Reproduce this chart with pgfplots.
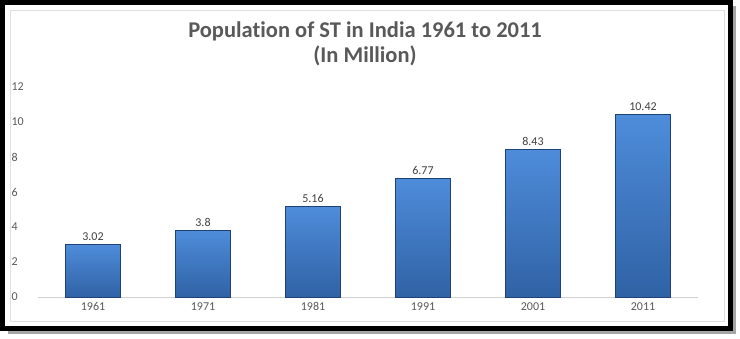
\documentclass[border=0pt]{standalone}
\usepackage{pgfplots}
\pgfplotsset{compat=1.18}
\usepackage{fontspec}
\setmainfont{Carlito}[Ligatures={NoCommon}]
\definecolor{txt}{HTML}{595959}
\definecolor{lab}{HTML}{404040}
\definecolor{bartop}{RGB}{78,140,218}
\definecolor{barbot}{RGB}{48,98,165}
\definecolor{baredge}{RGB}{30,66,120}
\tikzset{mybar/.style={draw=baredge, line width=0.8pt, top color=bartop, bottom color=barbot}}
\begin{document}
\begin{tikzpicture}[x=1pt,y=1pt]
\useasboundingbox (0,0) rectangle (740,338);
% shadow and frame
\fill[black!35] (8,4) rectangle (736,332);
\fill[white] (2.5,9.5) rectangle (730.5,336);
\draw[black,line width=5pt] (2.5,9.5) rectangle (730.5,335.5);
\draw[black!12,line width=0.8pt] (10,17) rectangle (724,328);
% title
\node[text=txt,font=\bfseries\fontsize{22.5}{26}\selectfont] at (365,307) {Population of ST in India 1961 to 2011};
\node[text=txt,font=\bfseries\fontsize{22.5}{26}\selectfont] at (365,282) {(In Million)};
\begin{axis}[
  at={(38pt,41pt)}, anchor=south west,
  scale only axis, width=660pt, height=210pt,
  xmin=-0.5, xmax=5.5, ymin=0, ymax=12,
  ytick={0,2,...,12},
  xtick={0,1,2,3,4,5},
  xticklabels={1961,1971,1981,1991,2001,2011},
  axis line style={draw=none},
  major tick length=0pt,
  tick style={draw=none},
  ticklabel style={text=txt,font=\fontsize{12}{14}\selectfont},
  /pgf/number format/assume math mode=true,
  yticklabel style={anchor=west, xshift=-30pt},
  xticklabel style={yshift=-2pt},
  ybar, bar width=55pt, bar shift=0pt,
  nodes near coords,
  every node near coord/.append style={text=lab,font=\fontsize{12}{14}\selectfont, yshift=0pt},
  point meta=explicit symbolic,
  clip=false,
]
\draw[black!18, line width=0.8pt] (axis cs:-0.5,0) -- (axis cs:5.5,0);
\addplot[mybar] coordinates {(0,3.02) [3.02]};
\addplot[mybar] coordinates {(1,3.8) [3.8]};
\addplot[mybar] coordinates {(2,5.16) [5.16]};
\addplot[mybar] coordinates {(3,6.77) [6.77]};
\addplot[mybar] coordinates {(4,8.43) [8.43]};
\addplot[mybar] coordinates {(5,10.42) [10.42]};
\end{axis}
\end{tikzpicture}
\end{document}
